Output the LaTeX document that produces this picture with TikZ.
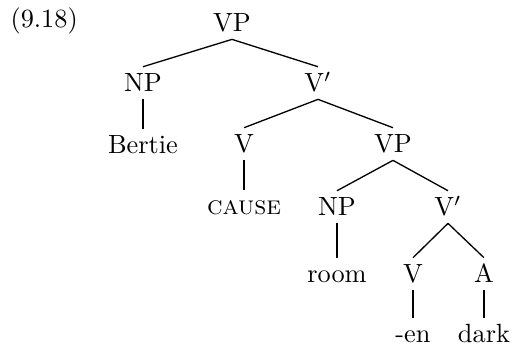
\documentclass[tikz,border=0pt]{standalone}
\usetikzlibrary{calc}
\tikzset{cat/.style={anchor=base,text height=6.8pt,text depth=0pt,
    inner xsep=1pt,inner ysep=2.6pt},
  branch/.style={line width=0.5pt}}

\begin{document}
\begin{tikzpicture}[x=0.38pt,y=-0.38pt]
    \useasboundingbox (0,0) rectangle (512,352);

    % Example number
    \node[anchor=base west,inner sep=0pt] (exno) at (10,28) {(9.18)};

    % Categories
    \node[cat] (vp)    at (232,32)  {VP};
    \node[cat] (np)    at (143,92)  {NP};
    \node[cat] (vbar)  at (318,92)  {V$'$};
    \node[cat] (v)     at (244,153) {V};
    \node[cat] (vpb)   at (393,153) {VP};
    \node[cat] (npb)   at (337,216) {NP};
    \node[cat] (vbarb) at (448,216) {V$'$};
    \node[cat] (vc)    at (413,283) {V};
    \node[cat] (a)     at (484,283) {A};

    % Words
    \node[cat] (bertie) at (143,154) {Bertie};
    \node[cat] (cause)  at (244,215) {\textsc{cause}};
    \node[cat] (room)   at (337,283) {room};
    \node[cat] (en)     at (413,343) {-en};
    \node[cat] (dark)   at (484,343) {dark};

    % Branches
    \draw[branch] (vp.south) -- (np.north);
    \draw[branch] (vp.south) -- (vbar.north);
    \draw[branch] (np.south) -- (bertie.north);
    \draw[branch] (vbar.south) -- (v.north);
    \draw[branch] (vbar.south) -- (vpb.north);
    \draw[branch] (v.south) -- (cause.north);
    \draw[branch] (vpb.south) -- (npb.north);
    \draw[branch] (vpb.south) -- (vbarb.north);
    \draw[branch] (npb.south) -- (room.north);
    \draw[branch] (vbarb.south) -- (vc.north);
    \draw[branch] (vbarb.south) -- (a.north);
    \draw[branch] (vc.south) -- (en.north);
    \draw[branch] (a.south) -- (dark.north);

\end{tikzpicture}
\end{document}
